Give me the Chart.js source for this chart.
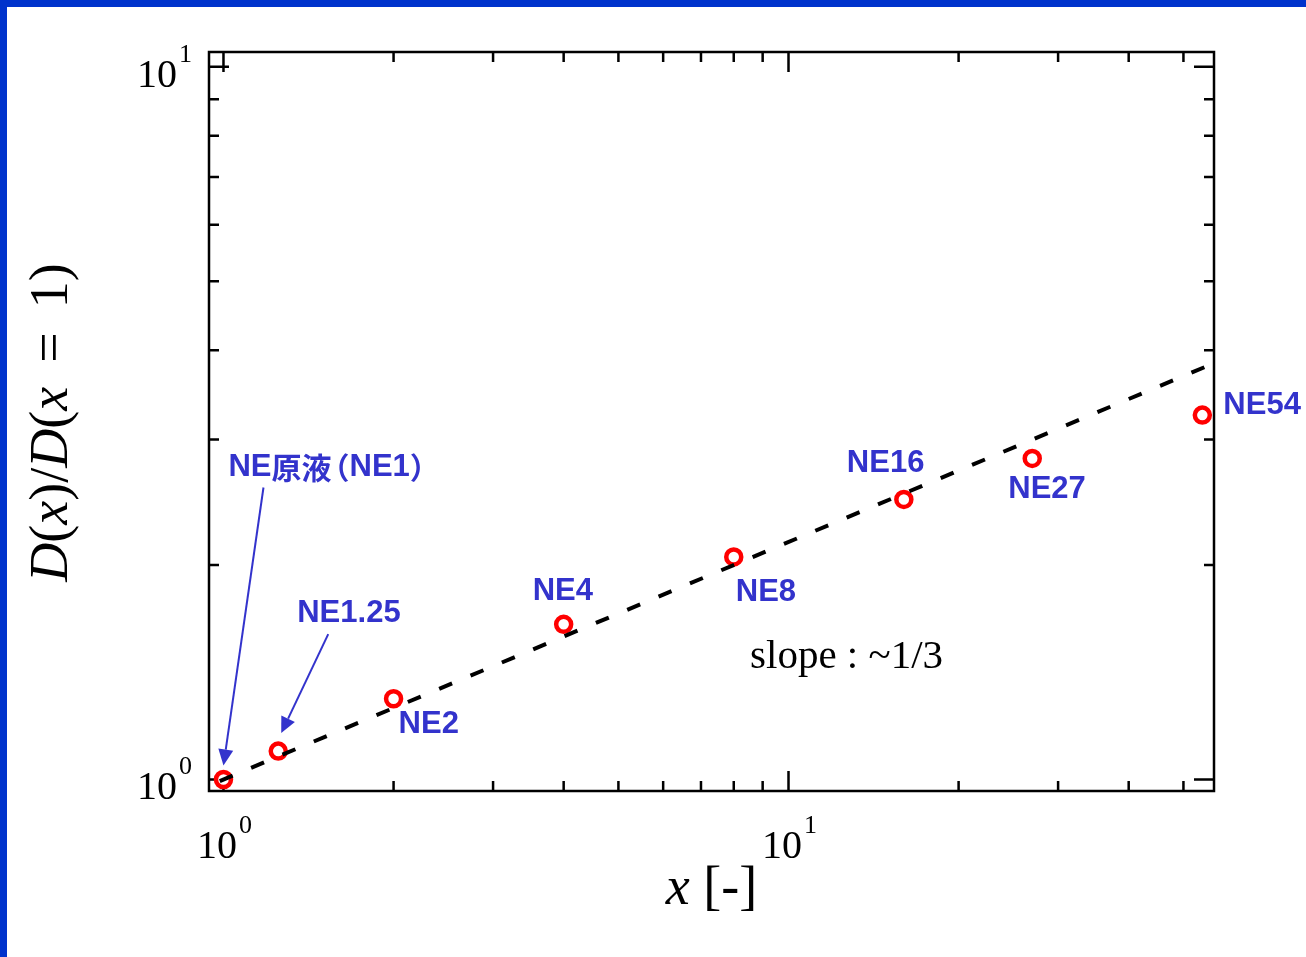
<!DOCTYPE html>
<html>
<head>
<meta charset="utf-8">
<script src="https://cdn.jsdelivr.net/npm/chart.js@4.4.1/dist/chart.umd.min.js"></script>
<style>
  body { margin: 0; background: #fff; }
  canvas { display: block; }
</style>
</head>
<body>
<canvas id="chart" width="1306" height="957"></canvas>
<script>
// samples (dilution factor x) and normalised size D(x)/D(x=1)
const sampleNames = ['NE原液（NE1）', 'NE1.25', 'NE2', 'NE4', 'NE8', 'NE16', 'NE27', 'NE54'];
const dilution = [1, 1.25, 2, 4, 8, 16, 27, 54];
const sizeRatio = [1.0, 1.096, 1.298, 1.651, 2.052, 2.471, 2.821, 3.245];

// guide line with slope ~1/3 on the log-log plot
const guideX = [0.985, 55];
const guideY = [0.995, 3.80];

const xMajorTicks = [1, 10];
const xMinorTicks = [2, 3, 4, 5, 6, 7, 8, 9, 20, 30, 40, 50];
const yMajorTicks = [1, 10];
const yMinorTicks = [2, 3, 4, 5, 6, 7, 8, 9];

const BLUE = '#3333cc';
const SERIF = '"Liberation Serif", "Times New Roman", serif';

// where each sample label sits relative to its point (px), and optional arrow
const labelLayout = [
  { dx: 5, dy: -312, arrow: [40, -292, 0, -14] },
  { dx: 19, dy: -138, arrow: [50, -117, 3, -18] },
  { dx: 5, dy: 26 },
  { dx: -31, dy: -33 },
  { dx: 2, dy: 35 },
  { dx: -57, dy: -36 },
  { dx: -24, dy: 31 },
  { dx: 21, dy: -10 }
];

// label with ascii in Arial-like bold and CJK glyphs from Noto
function drawMixedLabel(ctx, text, x, y) {
  for (const ch of text) {
    const wide = ch.charCodeAt(0) > 0x2e80;
    ctx.font = wide ? '700 30px "Noto Sans CJK JP"' : 'bold 31px "Liberation Sans", Arial, sans-serif';
    const w = ctx.measureText(ch).width;
    if (ch === '（') x -= w * 0.4;
    ctx.fillText(ch, x, y);
    x += ch === '）' ? w * 0.6 : w;
  }
}

// runs of upright / italic text, {gap} adds space
function runsWidth(ctx, runs, size) {
  let w = 0;
  for (const r of runs) {
    if (r.gap) { w += r.gap; continue; }
    ctx.font = (r.it ? 'italic ' : '') + size + 'px ' + SERIF;
    w += ctx.measureText(r.t).width;
  }
  return w;
}
function drawRuns(ctx, runs, size, x, y) {
  for (const r of runs) {
    if (r.gap) { x += r.gap; continue; }
    ctx.font = (r.it ? 'italic ' : '') + size + 'px ' + SERIF;
    ctx.fillText(r.t, x, y);
    x += ctx.measureText(r.t).width;
  }
}

function power10(ctx, exp, x, y, align) {
  ctx.font = '40px ' + SERIF;
  const wBase = ctx.measureText('10').width;
  ctx.font = '26px ' + SERIF;
  const wExp = ctx.measureText(String(exp)).width;
  const total = wBase + 2 + wExp;
  let left = align === 'center' ? x - total / 2 : x - total;
  ctx.textAlign = 'left';
  ctx.textBaseline = 'alphabetic';
  ctx.font = '40px ' + SERIF;
  ctx.fillText('10', left, y);
  ctx.font = '26px ' + SERIF;
  ctx.fillText(String(exp), left + wBase + 2, y - 25);
}

const decor = {
  id: 'decor',
  beforeDraw(chart) {
    const ctx = chart.ctx;
    ctx.save();
    ctx.fillStyle = '#fff';
    ctx.fillRect(0, 0, chart.width, chart.height);
    ctx.fillStyle = '#0033cc';
    ctx.fillRect(0, 0, chart.width, 7);
    ctx.fillRect(0, 0, 7, chart.height);
    ctx.restore();
  },
  beforeDatasetsDraw(chart) {
    const { ctx, chartArea: a, scales } = chart;
    const xs = scales.x, ys = scales.y;
    ctx.save();
    ctx.strokeStyle = '#000';
    ctx.lineWidth = 2.5;
    ctx.strokeRect(a.left, a.top, a.right - a.left, a.bottom - a.top);
    ctx.beginPath();
    const xt = (v, len) => {
      const p = xs.getPixelForValue(v);
      ctx.moveTo(p, a.bottom); ctx.lineTo(p, a.bottom - len);
      ctx.moveTo(p, a.top); ctx.lineTo(p, a.top + len);
    };
    const yt = (v, len) => {
      const p = ys.getPixelForValue(v);
      ctx.moveTo(a.left, p); ctx.lineTo(a.left + len, p);
      ctx.moveTo(a.right, p); ctx.lineTo(a.right - len, p);
    };
    xMajorTicks.forEach(v => xt(v, 20));
    xMinorTicks.forEach(v => xt(v, 10));
    yMajorTicks.forEach(v => yt(v, 20));
    yMinorTicks.forEach(v => yt(v, 10));
    ctx.stroke();
    ctx.restore();
  },
  afterDraw(chart) {
    const { ctx, chartArea: a, scales } = chart;
    const xs = scales.x, ys = scales.y;
    ctx.save();
    ctx.fillStyle = '#000';

    // tick labels 10^n
    xMajorTicks.forEach(v => power10(ctx, Math.round(Math.log10(v)), xs.getPixelForValue(v) + 1, a.bottom + 67, 'center'));
    yMajorTicks.forEach(v => power10(ctx, Math.round(Math.log10(v)), a.left - 17, ys.getPixelForValue(v) + 20, 'right'));

    // axis titles
    const xTitle = [{ t: 'x', it: true }, { t: ' [-]' }];
    const wx = runsWidth(ctx, xTitle, 54);
    drawRuns(ctx, xTitle, 54, (a.left + a.right) / 2 - wx / 2, 904);

    const yTitle = [
      { t: 'D', it: true }, { t: '(' }, { t: 'x', it: true }, { t: ')/' },
      { t: 'D', it: true }, { t: '(' }, { t: 'x', it: true }, { gap: 24 }, { t: '=' }, { gap: 24 }, { t: '1)' }
    ];
    const wy = runsWidth(ctx, yTitle, 54);
    ctx.save();
    ctx.translate(67, (a.top + a.bottom) / 2 + 1);
    ctx.rotate(-Math.PI / 2);
    drawRuns(ctx, yTitle, 54, -wy / 2, 0);
    ctx.restore();

    // slope note
    ctx.font = '41px ' + SERIF;
    ctx.fillText('slope : ~1/3', xs.getPixelForValue(8.55), ys.getPixelForValue(1.433));

    // sample labels and arrows
    ctx.fillStyle = BLUE;
    ctx.strokeStyle = BLUE;
    ctx.textBaseline = 'middle';
    sampleNames.forEach((name, i) => {
      const px = xs.getPixelForValue(dilution[i]);
      const py = ys.getPixelForValue(sizeRatio[i]);
      const L = labelLayout[i];
      drawMixedLabel(ctx, name, px + L.dx, py + L.dy);
      if (L.arrow) {
        const [sx, sy, tx, ty] = L.arrow;
        const x0 = px + sx, y0 = py + sy, x1 = px + tx, y1 = py + ty;
        const ang = Math.atan2(y1 - y0, x1 - x0);
        const hl = 16, hw = 7.5;
        const bx = x1 - hl * Math.cos(ang), by = y1 - hl * Math.sin(ang);
        ctx.lineWidth = 2;
        ctx.beginPath();
        ctx.moveTo(x0, y0);
        ctx.lineTo(bx, by);
        ctx.stroke();
        ctx.beginPath();
        ctx.moveTo(x1, y1);
        ctx.lineTo(bx + hw * Math.sin(ang), by - hw * Math.cos(ang));
        ctx.lineTo(bx - hw * Math.sin(ang), by + hw * Math.cos(ang));
        ctx.closePath();
        ctx.fill();
      }
    });
    ctx.restore();
  }
};

new Chart(document.getElementById('chart'), {
  type: 'scatter',
  data: {
    datasets: [
      {
        label: 'slope 1/3',
        data: guideX.map((x, i) => ({ x, y: guideY[i] })),
        showLine: true,
        borderColor: '#000',
        borderWidth: 4,
        borderDash: [14, 20],
        borderCapStyle: 'butt',
        pointRadius: 0,
        fill: false,
        order: 0,
        clip: false
      },
      {
        label: 'D(x)/D(x=1)',
        data: dilution.map((x, i) => ({ x, y: sizeRatio[i] })),
        pointStyle: 'circle',
        pointRadius: 7.5,
        pointBorderWidth: 4.5,
        pointBorderColor: '#ff0000',
        pointBackgroundColor: '#ffffff',
        borderWidth: 4.5,
        borderColor: '#ff0000',
        backgroundColor: '#ffffff',
        order: 1,
        clip: false
      }
    ]
  },
  options: {
    responsive: false,
    animation: false,
    events: [],
    layout: { padding: { left: 209, top: 52, right: 92, bottom: 166 } },
    plugins: { legend: { display: false }, tooltip: { enabled: false } },
    scales: {
      x: {
        type: 'logarithmic',
        min: 0.9427,
        max: 56.63,
        ticks: { display: false },
        grid: { display: false },
        border: { display: false },
        afterFit: s => { s.height = 0; }
      },
      y: {
        type: 'logarithmic',
        min: 0.9635,
        max: 10.486,
        ticks: { display: false },
        grid: { display: false },
        border: { display: false },
        afterFit: s => { s.width = 0; }
      }
    }
  },
  plugins: [decor]
});
</script>
</body>
</html>
